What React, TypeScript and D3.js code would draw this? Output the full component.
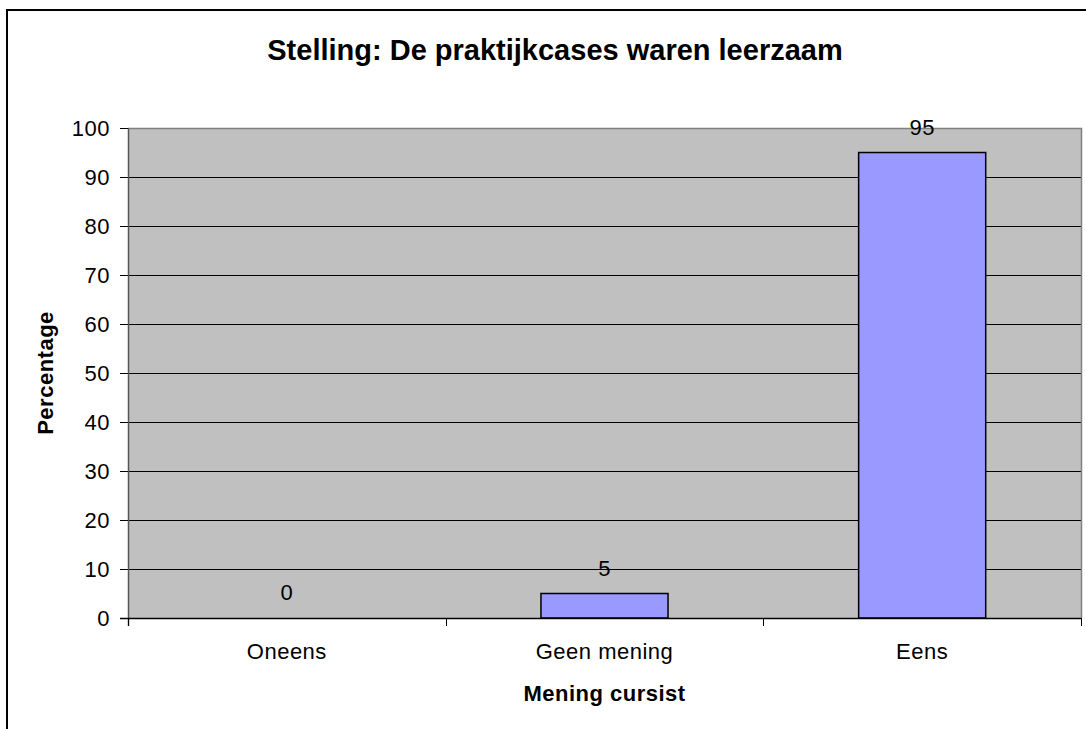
import React from "react";
import * as d3 from "d3";

const categories = ["Oneens", "Geen mening", "Eens"];
const values = [0, 5, 95];
const yTicks = [0, 10, 20, 30, 40, 50, 60, 70, 80, 90, 100];
const title = "Stelling: De praktijkcases waren leerzaam";
const xTitle = "Mening cursist";
const yTitle = "Percentage";

const W = 1086;
const H = 729;
const plot = { left: 128, right: 1081, top: 128, bottom: 618 };
const FONT = "'Liberation Sans', Arial, Helvetica, sans-serif";
const FS = 22;
const LS = 0.5;

export default function App() {
  const x = d3
    .scaleBand<string>()
    .domain(categories)
    .range([plot.left, plot.right])
    .paddingInner(0.6)
    .paddingOuter(0.3);
  const y = d3.scaleLinear().domain([0, 100]).range([plot.bottom, plot.top]);
  const step = x.step();
  const boundaries = d3.range(categories.length + 1).map((i) => plot.left + i * step);

  return (
    <div style={{ position: "absolute", left: 0, top: 0 }}>
      <svg width={W} height={H} style={{ display: "block", background: "#fff" }}>
        <rect x={7} y={10} width={1110} height={760} fill="#fff" stroke="#000" strokeWidth={2} />
        <text
          x={555}
          y={60}
          textAnchor="middle"
          fontFamily={FONT}
          fontWeight="bold"
          fontSize={29}
          fill="#000"
        >
          {title}
        </text>
        <rect
          x={plot.left}
          y={plot.top}
          width={plot.right - plot.left}
          height={plot.bottom - plot.top}
          fill="#C0C0C0"
          stroke="none"
        />
        {yTicks
          .filter((t) => t > 0 && t < 100)
          .map((t) => (
            <line
              key={"g" + t}
              x1={plot.left}
              x2={plot.right}
              y1={Math.round(y(t)) + 0.5}
              y2={Math.round(y(t)) + 0.5}
              stroke="#000"
              strokeWidth={1}
            />
          ))}
        <path
          d={`M${plot.left},${plot.top + 0.5}H${plot.right + 0.5}V${plot.bottom}`}
          fill="none"
          stroke="#808080"
          strokeWidth={1.5}
        />
        {categories.map((c, i) => (
          <rect
            key={c}
            x={x(c)!}
            y={y(values[i])}
            width={x.bandwidth()}
            height={plot.bottom - y(values[i])}
            fill="#9999FF"
            stroke="#000"
            strokeWidth={1.5}
          />
        ))}
        {categories.map((c, i) => (
          <text
            key={"v" + c}
            x={x(c)! + x.bandwidth() / 2}
            y={y(values[i]) - 18}
            textAnchor="middle"
            fontFamily={FONT}
            fontSize={FS}
            letterSpacing={LS}
            fill="#000"
          >
            {values[i]}
          </text>
        ))}
        <line x1={plot.left + 0.5} x2={plot.left + 0.5} y1={plot.top} y2={plot.bottom + 8} stroke="#555" strokeWidth={1.5} />
        {yTicks.map((t) => (
          <g key={"yt" + t}>
            <line
              x1={plot.left - 8}
              x2={plot.left}
              y1={Math.round(y(t)) + 0.5}
              y2={Math.round(y(t)) + 0.5}
              stroke="#000"
              strokeWidth={1}
            />
            <text
              x={110}
              y={y(t) + 8}
              textAnchor="end"
              fontFamily={FONT}
              fontSize={FS}
              letterSpacing={LS}
              fill="#000"
            >
              {t}
            </text>
          </g>
        ))}
        <line x1={plot.left - 8} x2={plot.right + 0.5} y1={plot.bottom + 0.5} y2={plot.bottom + 0.5} stroke="#000" strokeWidth={1.5} />
        {boundaries.map((b, i) => (
          <line
            key={"xt" + i}
            x1={Math.round(b) + 0.5}
            x2={Math.round(b) + 0.5}
            y1={plot.bottom}
            y2={plot.bottom + 8}
            stroke="#000"
            strokeWidth={1}
          />
        ))}
        {categories.map((c) => (
          <text
            key={"xl" + c}
            x={x(c)! + x.bandwidth() / 2}
            y={659}
            textAnchor="middle"
            fontFamily={FONT}
            fontSize={FS}
            letterSpacing={LS}
            fill="#000"
          >
            {c}
          </text>
        ))}
        <text
          x={(plot.left + plot.right) / 2}
          y={701}
          textAnchor="middle"
          fontFamily={FONT}
          fontWeight="bold"
          fontSize={FS}
          letterSpacing={LS}
          fill="#000"
        >
          {xTitle}
        </text>
        <text
          transform={`translate(53,${(plot.top + plot.bottom) / 2}) rotate(-90)`}
          textAnchor="middle"
          fontFamily={FONT}
          fontWeight="bold"
          fontSize={FS}
          letterSpacing={LS}
          fill="#000"
        >
          {yTitle}
        </text>
      </svg>
    </div>
  );
}
